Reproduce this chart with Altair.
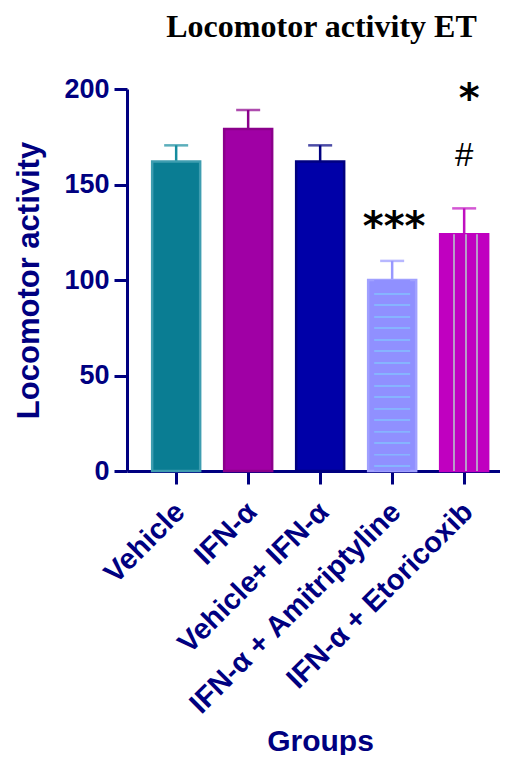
import altair as alt
import pandas as pd

# ---- data ----
groups = ["Vehicle", "IFN-α", "Vehicle+ IFN-α", "IFN-α + Amitriptyline", "IFN-α + Etoricoxib"]
means = [162, 179, 162, 100, 124]
sems = [8.5, 10, 8.5, 10, 13.5]
fills = ["#0A7D93", "#A000A5", "#0000A8", "#9090FF", "#C000C0"]
strokes = ["#3E9DB0", "#8B008B", "#000080", "#A0A0FF", "#C000C0"]
err_colors = ["#168C9E", "#8B008B", "#000080", "#9898FF", "#C010C0"]

annot_groups = ["IFN-α + Amitriptyline", "IFN-α + Etoricoxib", "IFN-α + Etoricoxib"]
annot_labels = ["***", "#", "*"]
annot_values = [127, 165, 194]

NAVY = "#000080"
FONT = "Liberation Sans"

df = pd.DataFrame({"group": groups, "mean": means, "sem": sems,
                   "fill": fills, "stroke": strokes, "ecol": err_colors})
df["upper"] = df["mean"] + df["sem"]
ann = pd.DataFrame({"group": annot_groups, "label": annot_labels, "val": annot_values})

xscale = alt.Scale(domain=groups, paddingInner=1/3, paddingOuter=0.257, align=0.68)
yscale = alt.Scale(domain=[0, 200], nice=False)

xaxis = alt.Axis(title="Groups", labelAngle=-45, labelFont=FONT, labelFontWeight="bold",
                 labelFontSize=29, labelColor=NAVY, labelPadding=13, labelOffset=-6,
                 labelLimit=500,
                 domainColor=NAVY, domainWidth=3, tickColor=NAVY, tickWidth=3, tickSize=13,
                 titleFont=FONT, titleFontWeight="bold", titleFontSize=30, titleColor=NAVY,
                 titleX=193, titleY=279, titleBaseline="alphabetic", titleAlign="center")
yaxis = alt.Axis(title="Locomotor activity", values=[0, 50, 100, 150, 200], grid=False,
                 labelFont=FONT, labelFontWeight="bold", labelFontSize=27, labelColor=NAVY,
                 labelPadding=5, domainColor=NAVY, domainWidth=3, tickColor=NAVY,
                 tickWidth=3, tickSize=13,
                 titleFont=FONT, titleFontWeight="bold", titleFontSize=31, titleColor=NAVY,
                 titleAngle=-90, titleX=-89, titleY=191, titleAlign="center",
                 titleBaseline="alphabetic")

X = alt.X("group:N", scale=xscale, sort=groups, axis=xaxis)
Y = alt.Y("mean:Q", scale=yscale, axis=yaxis)
base = alt.Chart(df)

bars = base.mark_bar(strokeWidth=2.5).encode(
    x=X, y=Y,
    fill=alt.Fill("fill:N", scale=None),
    stroke=alt.Stroke("stroke:N", scale=None))

err_rule = base.mark_rule(strokeWidth=2.5).encode(
    x=X, y=Y, y2="upper:Q",
    color=alt.Color("ecol:N", scale=None))
err_cap = base.mark_tick(size=24, thickness=2.5).encode(
    x=X, y=alt.Y("upper:Q", scale=yscale, axis=yaxis),
    color=alt.Color("ecol:N", scale=None))

# stripe textures (styling only)
h_stops = []
for i in range(16):
    o = 0.068 + i * 0.0602
    h_stops += [alt.GradientStop(color="#9090FF", offset=max(o - 0.0001, 0)),
                alt.GradientStop(color="#86B4FF", offset=o),
                alt.GradientStop(color="#86B4FF", offset=o + 0.008),
                alt.GradientStop(color="#9090FF", offset=o + 0.0081)]
h_grad = alt.LinearGradient(gradient="linear", stops=h_stops, x1=0, x2=0, y1=0, y2=1)
amit_lines = base.transform_filter(alt.datum.group == groups[3]).mark_bar(
    width=36, fill=h_grad, strokeWidth=0).encode(x=X, y=Y)

v_stops = [alt.GradientStop(color="#C000C0", offset=0)]
for o in [0.27, 0.515, 0.75]:
    v_stops += [alt.GradientStop(color="#C000C0", offset=o - 0.0001),
                alt.GradientStop(color="#B89AC8", offset=o),
                alt.GradientStop(color="#B89AC8", offset=o + 0.035),
                alt.GradientStop(color="#C000C0", offset=o + 0.0351)]
v_stops.append(alt.GradientStop(color="#C000C0", offset=1))
v_grad = alt.LinearGradient(gradient="linear", stops=v_stops, x1=0, x2=1, y1=0, y2=0)
etori_lines = base.transform_filter(alt.datum.group == groups[4]).mark_bar(
    fill=v_grad, strokeWidth=0).encode(x=X, y=Y)

abase = alt.Chart(ann)
AY = alt.Y("val:Q", scale=yscale, axis=yaxis)
stars3 = abase.transform_filter(alt.datum.label == "***").mark_text(
    font="DejaVu Sans", fontWeight="bold", fontSize=40, color="black", baseline="middle",
    dx=2).encode(x=X, y=AY, text="label:N")
hashm = abase.transform_filter(alt.datum.label == "#").mark_text(
    font=FONT, fontSize=33, color="black", baseline="middle").encode(
    x=X, y=AY, text="label:N")
star1 = abase.transform_filter(alt.datum.label == "*").mark_text(
    font="DejaVu Sans", fontWeight="bold", fontSize=40, color="black", baseline="middle",
    dx=5).encode(x=X, y=AY, text="label:N")

chart = alt.layer(err_rule, err_cap, bars, amit_lines, etori_lines, stars3, hashm, star1).properties(
    width=373, height=382,
    title=alt.Title("Locomotor activity ET", font="Liberation Serif", fontSize=32,
                    fontWeight="bold", color="black", anchor="middle", dx=8, offset=6,
                    baseline="alphabetic"),
    autosize=alt.AutoSizeParams(type="none"),
    padding={"left": 119, "top": 81, "right": 0, "bottom": 284},
).configure_view(strokeWidth=0)

chart.save("out.html", embed_options={"renderer": "svg", "actions": False})
